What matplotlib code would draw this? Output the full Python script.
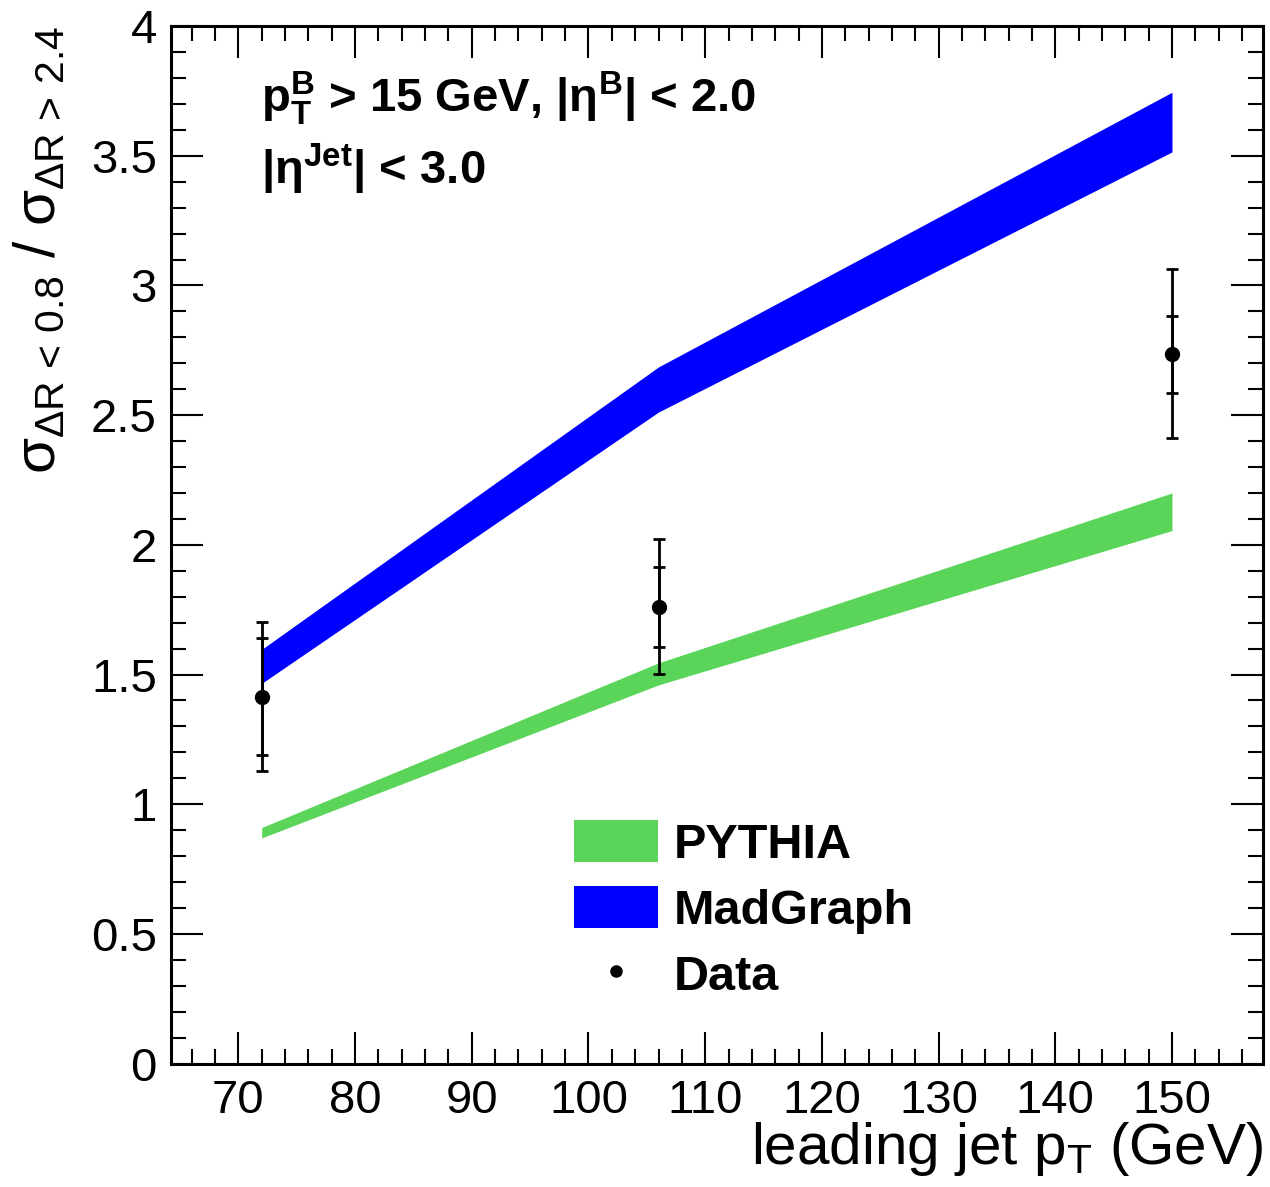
import numpy as np
import matplotlib
matplotlib.use("Agg")
import matplotlib.pyplot as plt
from matplotlib.patches import Patch
from matplotlib.lines import Line2D
from matplotlib.ticker import MultipleLocator

plt.rcParams['font.family'] = ['Liberation Sans', 'DejaVu Sans']
plt.rcParams['mathtext.fontset'] = 'custom'
plt.rcParams['mathtext.rm'] = 'Liberation Sans'
plt.rcParams['mathtext.it'] = 'Liberation Sans'
plt.rcParams['mathtext.bf'] = 'Liberation Sans:bold'

# === data ===
pt = [72, 106, 150]

pythia_lo = [0.87, 1.46, 2.055]
pythia_hi = [0.91, 1.545, 2.20]

madgraph_lo = [1.466, 2.512, 3.515]
madgraph_hi = [1.597, 2.686, 3.745]

data_y = [1.414, 1.761, 2.736]
stat_lo = [1.190, 1.607, 2.586]
stat_hi = [1.642, 1.913, 2.883]
tot_lo = [1.129, 1.503, 2.411]
tot_hi = [1.704, 2.021, 3.062]

GREEN = '#5ad55a'
BLUE = '#0000ff'

# === figure ===
fig = plt.figure(figsize=(12.70, 11.87), dpi=100)
ax = fig.add_axes([0.1344, 0.104, 0.8601, 0.874])

ax.fill_between(pt, pythia_lo, pythia_hi, color=GREEN, lw=0)
ax.fill_between(pt, madgraph_lo, madgraph_hi, color=BLUE, lw=0)

y = np.array(data_y)
ax.errorbar(pt, y, yerr=[y - np.array(tot_lo), np.array(tot_hi) - y],
            fmt='none', ecolor='black', elinewidth=2, capsize=4.5, capthick=2)
ax.errorbar(pt, y, yerr=[y - np.array(stat_lo), np.array(stat_hi) - y],
            fmt='o', color='black', ms=10, elinewidth=2, capsize=4.5, capthick=2)

ax.set_xlim(64.2, 157.8)
ax.set_ylim(0, 4)
ax.xaxis.set_major_locator(MultipleLocator(10))
ax.xaxis.set_minor_locator(MultipleLocator(2))
ax.yaxis.set_major_locator(MultipleLocator(0.5))
ax.yaxis.set_minor_locator(MultipleLocator(0.1))
ax.set_yticks([0, 0.5, 1, 1.5, 2, 2.5, 3, 3.5, 4])
ax.set_yticklabels(['0', '0.5', '1', '1.5', '2', '2.5', '3', '3.5', '4'])

ax.tick_params(which='both', direction='in', top=True, right=True, width=1.5)
ax.tick_params(which='major', length=23)
ax.tick_params(which='minor', length=11)
ax.tick_params(axis='x', labelsize=34, pad=11)
ax.tick_params(axis='y', labelsize=34, pad=10)
for s in ax.spines.values():
    s.set_linewidth(2.2)

ax.set_xlabel(r'leading jet p$_{\rm T}$ (GeV)', fontsize=42, loc='right', labelpad=-2)
ax.set_ylabel(r'$\sigma_{\Delta R\,<\,0.8}$ / $\sigma_{\Delta R\,>\,2.4}$', fontsize=42, loc='top')
ax.yaxis.set_label_coords(-0.095, 1.0)

ax.text(0.083, 0.917, r'p$_{\mathbf{T}}^{\mathbf{B}}$ > 15 GeV, |η$^{\mathbf{B}}$| < 2.0',
        transform=ax.transAxes, fontsize=34, fontweight='bold', va='baseline')
ax.text(0.083, 0.847, r'|η$^{\mathbf{Jet}}$| < 3.0',
        transform=ax.transAxes, fontsize=34, fontweight='bold', va='baseline')

handles = [Patch(facecolor=GREEN, edgecolor='none'),
           Patch(facecolor=BLUE, edgecolor='none'),
           Line2D([], [], ls='none', marker='o', color='black', ms=8)]
ax.legend(handles, ['PYTHIA', 'MadGraph', 'Data'], prop={'size': 35, 'weight': 'bold'},
          loc='upper left', bbox_to_anchor=(574 / 1270, 1 - 820 / 1187),
          bbox_transform=fig.transFigure, frameon=False, borderpad=0, borderaxespad=0,
          handlelength=1.72, handleheight=0.95, handletextpad=0.33, labelspacing=0.38)

fig.savefig('out.png', dpi=100)
